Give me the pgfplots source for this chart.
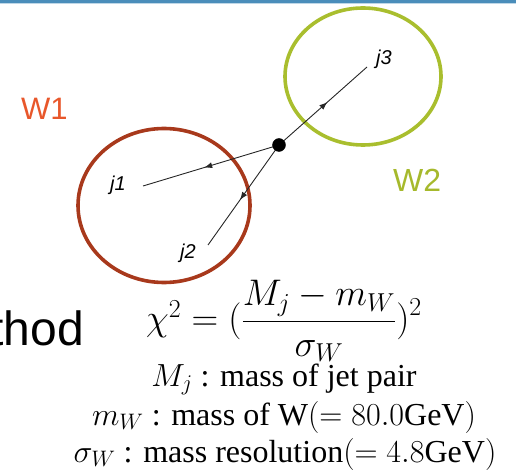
\RequirePackage{fix-cm}
\documentclass[border=0pt]{standalone}
\usepackage{pgfplots}
\pgfplotsset{compat=1.18}
\usepackage{fontspec}
\setmainfont{Liberation Serif}
\setsansfont{Liberation Sans}
\usetikzlibrary{decorations.markings,arrows.meta}
\definecolor{wone}{HTML}{E8572B}
\definecolor{wtwo}{HTML}{A6B92C}
\definecolor{ringone}{HTML}{A8391C}
\definecolor{ringtwo}{HTML}{A9BE2E}
\definecolor{topbar}{HTML}{4A8DBA}
\begin{document}
\begin{tikzpicture}[
  midarrow/.style={postaction={decorate},decoration={markings,
    mark=at position 0.55 with {\arrow{Latex[length=8pt,width=6pt]}}}}]
\begin{axis}[
    width=516pt, height=470pt, scale only axis,
    xmin=0, xmax=516, ymin=0, ymax=470, y dir=reverse,
    hide axis, clip=false,
]
% top rule of the slide
\addplot[draw=none, fill=topbar] coordinates {(0,0) (516,0) (516,3.5) (0,3.5)} \closedcycle;

% jet cones
\draw[ringone, line width=3.6pt] (axis cs:164,205.5) ellipse [x radius=86, y radius=77];
\draw[ringtwo, line width=3.6pt] (axis cs:363,76.5) ellipse [x radius=78, y radius=68.5];

% jets from the vertex
\addplot[black!85, line width=0.9pt, midarrow] coordinates {(279,145) (367,67)};
\addplot[black!85, line width=0.9pt, midarrow] coordinates {(279,145) (143,186)};
\addplot[black!85, line width=0.9pt, midarrow] coordinates {(279,145) (208,245)};
\addplot[only marks, mark=*, mark size=6.5pt, black] coordinates {(279,145)};

\node[font=\sffamily\itshape\fontsize{20}{20}\selectfont] at (axis cs:118,185) {j1};
\node[font=\sffamily\itshape\fontsize{20}{20}\selectfont] at (axis cs:188,253) {j2};
\node[font=\sffamily\itshape\fontsize{20}{20}\selectfont] at (axis cs:384,59) {j3};

\node[wone, font=\sffamily\fontsize{31}{31}\selectfont, anchor=base west, inner sep=0pt] at (axis cs:21,120) {W1};
\node[wtwo, font=\sffamily\fontsize{32}{32}\selectfont, anchor=base west, inner sep=0pt] at (axis cs:393,192) {W2};

\node[font=\sffamily\fontsize{48}{48}\selectfont, anchor=base east, inner sep=0pt] at (axis cs:84,345) {thod};

% chi-square
\node[font=\fontsize{37}{37}\selectfont, anchor=center, inner sep=0pt] at (axis cs:284,321)
  {$\chi^2 = (\displaystyle\frac{M_j - m_W}{\sigma_W})^2$};
\node[font=\fontsize{32}{32}\selectfont, anchor=base, inner sep=0pt] at (axis cs:284,386)
  {$M_j$ : mass of jet pair};
\node[font=\fontsize{32}{32}\selectfont, anchor=base, inner sep=0pt] at (axis cs:284,425)
  {$m_W$ : mass of W$(= 80.0$GeV$)$};
\node[font=\fontsize{32}{32}\selectfont, anchor=base, inner sep=0pt] at (axis cs:285,462)
  {$\sigma_W$ : mass resolution$(= 4.8$GeV$)$};
\end{axis}
\pgfresetboundingbox
\path (0,0) rectangle (516pt,470pt);
\end{tikzpicture}
\end{document}
